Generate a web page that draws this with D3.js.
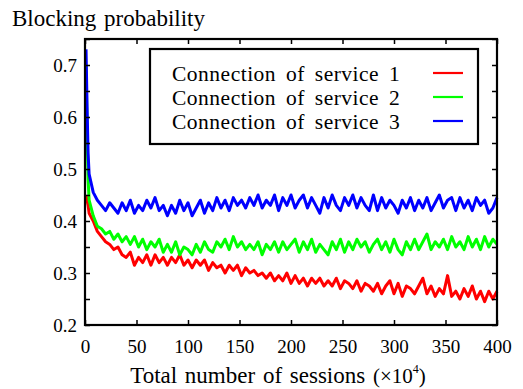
<!DOCTYPE html>
<html>
<head>
<meta charset="utf-8">
<script src="https://cdn.jsdelivr.net/npm/d3@7"></script>
<style>
  body { margin: 0; background: #fff; }
  text { font-family: "Liberation Serif", "Times New Roman", serif; fill: #000; }
</style>
</head>
<body>
<svg id="chart" width="523" height="389"></svg>
<script>
// sample positions (x 10^4 sessions)
const sessions = [1, 2, 3].concat(d3.range(4, 401, 4));

const service1 = [
  0.45, 0.44, 0.43,
  0.415, 0.40, 0.38, 0.37, 0.36, 0.355, 0.345, 0.35, 0.335, 0.33,
  0.34, 0.315, 0.33, 0.32, 0.335, 0.315, 0.335, 0.32, 0.33, 0.315,
  0.33, 0.32, 0.335, 0.315, 0.325, 0.31, 0.325, 0.315, 0.325, 0.305,
  0.32, 0.31, 0.315, 0.30, 0.315, 0.305, 0.315, 0.295, 0.31, 0.30,
  0.305, 0.295, 0.30, 0.29, 0.30, 0.285, 0.295, 0.285, 0.30, 0.28,
  0.295, 0.28, 0.29, 0.275, 0.29, 0.28, 0.29, 0.275, 0.285, 0.275,
  0.29, 0.27, 0.285, 0.28, 0.27, 0.285, 0.265, 0.28, 0.275, 0.265,
  0.28, 0.26, 0.275, 0.285, 0.26, 0.28, 0.255, 0.275, 0.27, 0.26,
  0.275, 0.29, 0.26, 0.275, 0.255, 0.27, 0.26, 0.295, 0.255, 0.265,
  0.25, 0.27, 0.255, 0.275, 0.25, 0.265, 0.245, 0.265, 0.25, 0.265
];

const service2 = [
  0.70, 0.58, 0.48,
  0.44, 0.41, 0.39, 0.385, 0.375, 0.38, 0.365, 0.375, 0.36, 0.37,
  0.355, 0.37, 0.35, 0.365, 0.345, 0.36, 0.35, 0.365, 0.34, 0.355,
  0.34, 0.36, 0.335, 0.35, 0.345, 0.335, 0.355, 0.34, 0.36, 0.345,
  0.34, 0.36, 0.35, 0.365, 0.345, 0.37, 0.35, 0.36, 0.345, 0.355,
  0.345, 0.36, 0.335, 0.355, 0.345, 0.36, 0.34, 0.36, 0.345, 0.355,
  0.365, 0.34, 0.36, 0.345, 0.365, 0.34, 0.355, 0.345, 0.335, 0.36,
  0.345, 0.365, 0.34, 0.36, 0.345, 0.365, 0.35, 0.36, 0.34, 0.355,
  0.365, 0.345, 0.36, 0.34, 0.365, 0.345, 0.335, 0.36, 0.345, 0.365,
  0.345, 0.36, 0.375, 0.345, 0.36, 0.35, 0.365, 0.345, 0.37, 0.35,
  0.36, 0.345, 0.37, 0.35, 0.365, 0.345, 0.37, 0.35, 0.365, 0.355
];

const service3 = [
  0.73, 0.62, 0.53,
  0.49, 0.455, 0.44, 0.43, 0.42, 0.435, 0.425, 0.415, 0.435, 0.42,
  0.44, 0.415, 0.43, 0.42, 0.44, 0.425, 0.445, 0.42, 0.43, 0.41,
  0.43, 0.415, 0.44, 0.42, 0.435, 0.41, 0.425, 0.44, 0.415, 0.435,
  0.42, 0.445, 0.425, 0.44, 0.42, 0.445, 0.43, 0.44, 0.425, 0.445,
  0.43, 0.45, 0.425, 0.44, 0.43, 0.45, 0.42, 0.445, 0.43, 0.45,
  0.425, 0.44, 0.45, 0.425, 0.445, 0.43, 0.415, 0.445, 0.425, 0.45,
  0.43, 0.42, 0.445, 0.43, 0.45, 0.425, 0.445, 0.43, 0.42, 0.45,
  0.42, 0.445, 0.425, 0.44, 0.43, 0.415, 0.44, 0.425, 0.445, 0.42,
  0.44, 0.425, 0.445, 0.42, 0.435, 0.45, 0.425, 0.44, 0.445, 0.42,
  0.445, 0.425, 0.44, 0.42, 0.445, 0.43, 0.44, 0.415, 0.425, 0.445
];

const seriesNames = ["Connection of service 1", "Connection of service 2", "Connection of service 3"];
const seriesColors = ["#ff0000", "#00ff00", "#0000ff"];
const xTicks = [0, 50, 100, 150, 200, 250, 300, 350, 400];
const yTicks = [0.2, 0.3, 0.4, 0.5, 0.6, 0.7];
const yMinorTicks = [0.2, 0.25, 0.3, 0.35, 0.4, 0.45, 0.5, 0.55, 0.6, 0.65, 0.7, 0.75];

const margin = { top: 39, right: 26, bottom: 64, left: 85 };
const W = 523, H = 389;
const width = W - margin.left - margin.right;
const height = H - margin.top - margin.bottom;

const svg = d3.select("#chart");
const g = svg.append("g").attr("transform", `translate(${margin.left},${margin.top})`);

const x = d3.scaleLinear().domain([0, 400]).range([0, width]);
const y = d3.scaleLinear().domain([0.2, 0.75]).range([height, 0]);

// lines
const line = d3.line()
    .x((d, i) => x(sessions[i]))
    .y(d => y(d));

[service1, service2, service3].forEach((vals, i) => {
    g.append("path")
        .datum(vals)
        .attr("fill", "none")
        .attr("stroke", seriesColors[i])
        .attr("stroke-width", 3)
        .attr("stroke-linejoin", "round")
        .attr("d", line);
});

// axes, ticks pointing inward
const tickStyle = sel => {
    sel.select(".domain").remove();
    sel.selectAll(".tick line").attr("stroke", "#000").attr("stroke-width", 1.5);
};

g.append("g")
    .attr("transform", `translate(0,${height})`)
    .call(d3.axisBottom(x).tickValues(xTicks).tickSize(-5).tickPadding(15).tickFormat(d3.format("d")))
    .call(tickStyle)
    .selectAll("text").style("font-size", "19px").attr("font-family", null);

g.append("g")
    .call(d3.axisTop(x).tickValues(xTicks).tickSize(-5).tickFormat(""))
    .call(tickStyle);

g.append("g")
    .call(d3.axisLeft(y).tickValues(yMinorTicks).tickSize(-5).tickFormat(""))
    .call(tickStyle);

g.append("g")
    .call(d3.axisLeft(y).tickValues(yTicks).tickSize(0).tickPadding(8).tickFormat(d3.format(".1f")))
    .call(tickStyle)
    .selectAll("text").style("font-size", "19px").attr("font-family", null);

g.append("g")
    .attr("transform", `translate(${width},0)`)
    .call(d3.axisRight(y).tickValues(yMinorTicks).tickSize(-5).tickFormat(""))
    .call(tickStyle);

// frame
g.append("rect")
    .attr("width", width)
    .attr("height", height)
    .attr("fill", "none")
    .attr("stroke", "#000")
    .attr("stroke-width", 2.2);

// axis titles
svg.append("text")
    .attr("x", 12)
    .attr("y", 26)
    .style("font-size", "23px")
    .style("word-spacing", "2px")
    .text("Blocking probability");

const xl = svg.append("text")
    .attr("x", 278)
    .attr("y", 383)
    .attr("text-anchor", "middle")
    .style("font-size", "23px")
    .style("word-spacing", "2px");
xl.append("tspan").text("Total number of sessions ");
xl.append("tspan").style("font-size", "21px").text("(\u00d710");
xl.append("tspan").attr("dy", -10).style("font-size", "12px").text("4");
xl.append("tspan").attr("dy", 10).style("font-size", "21px").text(")");

// legend
const legend = svg.append("g").attr("transform", "translate(150,49)");
legend.append("rect")
    .attr("width", 328)
    .attr("height", 95)
    .attr("fill", "#fff")
    .attr("stroke", "#000")
    .attr("stroke-width", 2.2);

seriesNames.forEach((name, i) => {
    const row = legend.append("g").attr("transform", `translate(0,${24 + i * 24})`);
    row.append("text")
        .attr("x", 22)
        .attr("y", 0)
        .attr("dy", "0.35em")
        .style("font-size", "21.5px")
        .style("letter-spacing", "0.5px")
        .style("word-spacing", "4px")
        .text(name);
    row.append("line")
        .attr("x1", 283)
        .attr("x2", 313)
        .attr("stroke", seriesColors[i])
        .attr("stroke-width", 2.2);
});
</script>
</body>
</html>
